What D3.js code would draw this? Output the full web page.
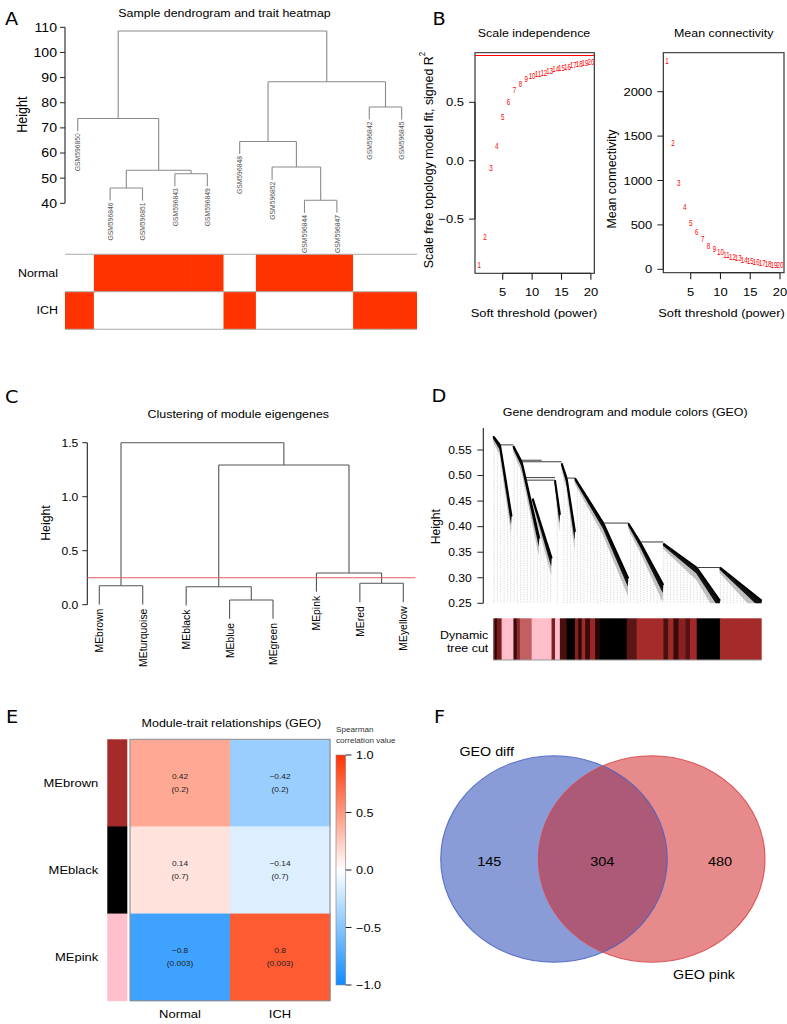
<!DOCTYPE html>
<html><head><meta charset="utf-8">
<script src="https://cdn.jsdelivr.net/npm/d3@7"></script>
<style>body{margin:0;background:#fff}svg{display:block}</style>
</head><body>
<svg id="chart" width="787" height="1024"></svg>
<script>
// ---------------- DATA ----------------
// A: sample dendrogram (R hclust style merge matrix: negative = leaf index)
const samples = ["GSM596850","GSM596846","GSM596851","GSM596843","GSM596849","GSM596848","GSM596852","GSM596844","GSM596847","GSM596842","GSM596845"];
const sampleMerges = [[-2,-3,46.1],[-8,-9,41.2],[-4,-5,51.8],[1,3,53.1],[-7,2,54.4],[-6,5,64.6],[-1,4,73.7],[-10,-11,78.3],[6,8,88.3],[7,9,108.5]];
const heightTicksA = [40,50,60,70,80,90,100,110];
const traitNames = ["Normal","ICH"];
const traitNormal = [0,1,1,1,1,0,1,1,1,0,0];
const traitICH    = [1,0,0,0,0,1,0,0,0,1,1];

// B: soft threshold
const powers = [1,2,3,4,5,6,7,8,9,10,11,12,13,14,15,16,17,18,19,20];
const sftR2 = [-0.894,-0.651,-0.065,0.126,0.372,0.506,0.606,0.655,0.700,0.726,0.743,0.754,0.769,0.783,0.792,0.806,0.817,0.826,0.837,0.846];
const meanK = [2346,1419,968,698,525,417,338,262,225,191,164,142,124,105,90,79,68,60,52,45];
const r2Cut = 0.9;
const powerTicks = [5,10,15,20];
const r2Ticks = [-0.5,0,0.5];
const kTicks = [0,500,1000,1500,2000];

// C: module eigengene clustering
const modules = ["MEbrown","MEturquoise","MEblack","MEblue","MEgreen","MEpink","MEred","MEyellow"];
const moduleMerges = [[-4,-5,0.044],[-3,1,0.167],[-1,-2,0.176],[-7,-8,0.198],[-6,4,0.294],[2,5,1.294],[3,6,1.5]];
const mergeCut = 0.25;
const heightTicksC = [0,0.5,1.0,1.5];

// D: gene dendrogram (approximate tails: [leafPos(0-1000), height])
const geneTails = [
  [[0,0.577],[25,0.560],[68,0.420]],
  [[74.5,0.558],[105.7,0.527],[121.8,0.491],[171.4,0.377]],
  [[146.7,0.455],[217.5,0.338]],
  [[229.8,0.491],[248.4,0.423]],
  [[254.7,0.524],[273.3,0.495],[304.4,0.390]],
  [[304.4,0.495],[409.8,0.407],[503,0.299]],
  [[503,0.407],[546.6,0.370],[633.4,0.286]],
  [[633.4,0.367],[757.8,0.320],[844.6,0.255]],
  [[844.6,0.320],[1000,0.255]]
];
const geneMerges = [[25,74.5,0.560],[105.7,180,0.530],[105.7,254.7,0.527],[121.8,229.8,0.496],[121.8,229.8,0.491],[273.3,304.4,0.495],[409.8,503,0.407],[546.6,633.4,0.370],[757.8,844.6,0.320]];
const heightTicksD = [0.25,0.30,0.35,0.40,0.45,0.50,0.55];
const dtcStart = [0,7,12,31,75,87,99,143,217,230,248,273,304,316,329,342,360,379,397,497,534,634,652,671,690,715,733,758,845];
const dtcEnd   = [7,12,31,75,87,99,143,217,230,248,273,304,316,329,342,360,379,397,497,534,634,652,671,690,715,733,758,845,1000];
const dtcColor = ["#6b1a1a","#000000","#7a1c1c","#FFC0CB","#3a0c0c","#8b2a2a","#c06060","#FFC0CB","#7a2020","#FFC0CB","#4a1010","#000000","#8b1f1f","#2a0808","#a02828","#3a0a0a","#9a2626","#2a0707","#000000","#5a1515","#A52A2A","#4a1010","#a02828","#3a0a0a","#8b2020","#5a1010","#a02828","#000000","#A52A2A"];

// E: module-trait relationships
const modulesE = ["MEbrown","MEblack","MEpink"];
const moduleColorsE = ["#A52A2A","#000000","#FFC0CB"];
const traitsE = ["Normal","ICH"];
const corE = [[0.42,-0.42],[0.14,-0.14],[-0.8,0.8]];
const pE = [["0.2","0.2"],["0.7","0.7"],["0.003","0.003"]];
const legendTicksE = [-1,-0.5,0,0.5,1];

// F: Venn
const vennSets = ["GEO diff","GEO pink"];
const vennCounts = [145,304,480];

// ---------------- SETUP ----------------
const FONT = "'Liberation Sans', Arial, Helvetica, sans-serif";
const SX = 1.1;                 // horizontal stretch of the original figure
const X = v => v / SX;
const svg = d3.select("#chart");
const defs = svg.append("defs");
const G = svg.append("g").attr("transform", `scale(${SX},1)`);

function label(g, x, y, s, o = {}) {
  const t = g.append("text").attr("dy", o.dy ?? "0.35em")
    .attr("text-anchor", o.anchor ?? "middle").attr("font-size", o.size ?? 11.3)
    .attr("fill", o.fill ?? "#000").attr("font-family", o.family ?? FONT).text(s);
  if (o.squeeze) t.attr("transform", `translate(${X(x)},${y}) scale(${o.squeeze},1)`);
  else t.attr("x", X(x)).attr("y", y);
  return t;
}
function vlabel(g, x, y, s, o = {}) {
  return g.append("text").attr("transform", `translate(${X(x)},${y}) rotate(-90)`)
    .attr("dy", o.dy ?? "0.35em").attr("text-anchor", o.anchor ?? "middle")
    .attr("font-size", o.size ?? 12.4).attr("fill", o.fill ?? "#000")
    .attr("font-family", o.family ?? FONT).text(s);
}
function line(g, x1, y1, x2, y2, stroke = "#000", w = 1) {
  return g.append("line").attr("x1", X(x1)).attr("y1", y1).attr("x2", X(x2)).attr("y2", y2)
    .attr("stroke", stroke).attr("stroke-width", w);
}
function axisLeftR(g, y, ticks, x0, fmt, o = {}) {
  const tl = o.tick ?? 5.5, pad = o.pad ?? 3, size = o.size ?? 11.5;
  line(g, x0, y(ticks[0]), x0, y(ticks[ticks.length - 1]), "#222");
  ticks.forEach(t => {
    line(g, x0 - tl, y(t), x0, y(t), "#222");
    label(g, x0 - tl - pad, y(t), fmt(t), { anchor: "end", size });
  });
}
function axisBottomR(g, x, ticks, y0, fmt, o = {}) {
  const tl = o.tick ?? 6.5, off = o.off ?? 19, size = o.size ?? 11.5;
  line(g, x(ticks[0]), y0, x(ticks[ticks.length - 1]), y0, "#222");
  ticks.forEach(t => {
    line(g, x(t), y0, x(t), y0 + tl, "#222");
    label(g, x(t), y0 + off, fmt(t), { size });
  });
}
function dendro(g, leaves, merges, xs, ys, hang, stroke, w) {
  const pos = [];
  const leafEnd = {};
  merges.forEach((m, i) => {
    const h = m[2];
    const kids = [m[0], m[1]].map(c => c < 0 ? { x: xs(leaves[-c - 1]), h: h - hang, leaf: leaves[-c - 1] } : pos[c - 1]);
    line(g, kids[0].x, ys(h), kids[1].x, ys(h), stroke, w);
    kids.forEach(k => {
      line(g, k.x, ys(h), k.x, ys(k.h), stroke, w);
      if (k.leaf) leafEnd[k.leaf] = ys(k.h);
    });
    pos.push({ x: (kids[0].x + kids[1].x) / 2, h });
  });
  return leafEnd;
}
function panelLetter(x, y, s) {
  label(G, x, y, s, { size: 17.5, family: "'DejaVu Sans', Arial, sans-serif" });
}

// ---------------- PANEL A ----------------
{
  const g = G.append("g");
  panelLetter(11.7, 19.2, "A");
  label(g, 224.5, 13.5, "Sample dendrogram and trait heatmap", { size: 11.3 });
  const yA = d3.scaleLinear().domain([40, 110]).range([203.3, 27.3]);
  const xA = d3.scalePoint().domain(samples).range([77.7, 401.7]);
  axisLeftR(g, yA, heightTicksA, 65, d => d3.format("d")(d), { tick: 5, pad: 3, size: 12.8 });
  vlabel(g, 22.5, 114.7, "Height", { size: 12.5 });
  const ends = dendro(g, samples, sampleMerges, xA, yA, 5, "#8a8a8a", 1);
  samples.forEach(s => vlabel(g, xA(s), ends[s] + 2, s, { anchor: "end", size: 6.8, fill: "#555" }));
  // trait heatmap
  const yR = d3.scaleBand().domain(traitNames).range([254.3, 329.3]);
  const half = xA.step() / 2;
  [traitNormal, traitICH].forEach((vals, r) => {
    vals.forEach((v, i) => {
      const c = xA(samples[i]);
      const x0 = Math.max(65, c - half), x1 = Math.min(417, c + half);
      g.append("rect").attr("x", X(x0)).attr("y", yR(traitNames[r]))
        .attr("width", X(x1) - X(x0) + (i < vals.length - 1 ? 0.6 : 0))
        .attr("height", yR.bandwidth()).attr("fill", v ? "#ff3300" : "#ffffff");
    });
    label(g, 58, yR(traitNames[r]) + yR.bandwidth() / 2, traitNames[r], { anchor: "end", size: 11.3 });
  });
  [254.3, yR("ICH"), 329.3].forEach(yy => line(g, 65, yy, 417, yy, "#aaa", 1));
}

// ---------------- PANEL B ----------------
{
  const g = G.append("g");
  panelLetter(439, 19.2, "B");
  const numFont = "'Liberation Sans', Arial, sans-serif";
  // left: scale independence
  const x1 = d3.scaleLinear().domain([1, 20]).range([479.2, 590.9]);
  const y1 = d3.scaleLinear().domain([0, 0.5]).range([160.7, 102.3]);
  g.append("rect").attr("x", X(475)).attr("y", 52.7).attr("width", X(594.3) - X(475)).attr("height", 220.6)
    .attr("fill", "none").attr("stroke", "#222");
  label(g, 534, 33.3, "Scale independence", { size: 11.3 });
  line(g, 475, y1(r2Cut), 594.3, y1(r2Cut), "#ff0000", 1);
  axisLeftR(g, y1, r2Ticks, 475, d => d3.format(".1f")(d), { tick: 6, pad: 5, size: 11.8 });
  axisBottomR(g, x1, powerTicks, 273.3, d => d, { size: 11.8 });
  const yl = vlabel(g, 428, 160, "", { size: 12.4 });
  yl.append("tspan").text("Scale free topology model fit, signed R");
  yl.append("tspan").attr("font-size", 8).attr("dy", "-0.9em").text("2");
  label(g, 534, 313, "Soft threshold (power)", { size: 11.7 });
  powers.forEach((p, i) => label(g, x1(p), y1(sftR2[i]), String(p),
    { size: 8.6, fill: "#ff0000", family: numFont, squeeze: 0.66 }));

  // right: mean connectivity
  const x2 = d3.scaleLinear().domain([1, 20]).range([666.9, 780.0]);
  const y2 = d3.scaleLinear().domain([0, 2000]).range([269.3, 91.7]);
  g.append("rect").attr("x", X(663.3)).attr("y", 52.7).attr("width", X(784) - X(663.3)).attr("height", 220)
    .attr("fill", "none").attr("stroke", "#222");
  label(g, 723.7, 33.3, "Mean connectivity", { size: 11.3 });
  axisLeftR(g, y2, kTicks, 663.3, d => d, { tick: 6, pad: 5, size: 11.8 });
  axisBottomR(g, x2, powerTicks, 272.7, d => d, { size: 11.8 });
  vlabel(g, 611.7, 179, "Mean connectivity", { size: 12.4 });
  label(g, 721.5, 313, "Soft threshold (power)", { size: 11.7 });
  powers.forEach((p, i) => label(g, x2(p), y2(meanK[i]), String(p),
    { size: 8.6, fill: "#ff0000", family: numFont, squeeze: 0.66 }));
}

// ---------------- PANEL C ----------------
{
  const g = G.append("g");
  panelLetter(11.7, 396.7, "C");
  label(g, 238.3, 414.3, "Clustering of module eigengenes", { size: 11.3 });
  const xC = d3.scalePoint().domain(modules).range([99.3, 403.3]);
  const yC = d3.scaleLinear().domain([0, 1.5]).range([604.7, 442.7]);
  axisLeftR(g, yC, heightTicksC, 87.3, d => d3.format(".1f")(d), { tick: 5, pad: 4, size: 11 });
  vlabel(g, 45, 523, "Height", { size: 12.3 });
  const ends = dendro(g, modules, moduleMerges, xC, yC, 0.175, "#555", 1);
  line(g, 87.3, yC(mergeCut), 415.5, yC(mergeCut), "#e85a5a", 1);
  modules.forEach(m => vlabel(g, xC(m), ends[m] + 4, m, { anchor: "end", size: 10.4 }));
}

// ---------------- PANEL D ----------------
{
  const g = G.append("g");
  panelLetter(439, 396, "D");
  label(g, 625.2, 411.7, "Gene dendrogram and module colors (GEO)", { size: 11.3 });
  const xD = d3.scaleLinear().domain([0, 1000]).range([493.3, 761.7]);
  const yD = d3.scaleLinear().domain([0.25, 0.55]).range([603.3, 450]);
  line(g, 483.3, 428, 483.3, yD(0.25), "#222");
  heightTicksD.forEach(t => {
    line(g, 477.3, yD(t), 483.3, yD(t), "#222");
    label(g, 471.7, yD(t), d3.format(".2f")(t), { anchor: "end", size: 11 });
  });
  vlabel(g, 435, 526.7, "Height", { size: 12.2 });

  defs.append("clipPath").attr("id", "clipTree").append("rect")
    .attr("x", X(488)).attr("y", 420).attr("width", X(300)).attr("height", 603.3 - 420);
  const tree = g.append("g").attr("clip-path", "url(#clipTree)");

  // guide lines hanging from the tree
  const topAt = u => {
    let best = null;
    geneTails.forEach(t => {
      for (let k = 0; k < t.length - 1; k++) {
        const p = t[k], q = t[k + 1];
        if (u >= p[0] && u <= q[0]) {
          const v = p[1] + (q[1] - p[1]) * (u - p[0]) / (q[0] - p[0] || 1);
          if (best === null || v > best) best = v;
        }
      }
    });
    return best;
  };
  const guides = d3.range(3, 1000, 12.4);
  guides.forEach(u => {
    const v = topAt(u);
    if (v === null) return;
    tree.append("line").attr("x1", X(xD(u))).attr("x2", X(xD(u))).attr("y1", yD(v) + 2).attr("y2", 603.3)
      .attr("stroke", "#bdbdbd").attr("stroke-width", 0.6).attr("stroke-dasharray", "1.2,1.2");
  });

  // tails
  geneTails.forEach(t => {
    const u0 = t[0][0], u1 = t[t.length - 1][0];
    const frac = u => (u - u0) / ((u1 - u0) || 1);
    const band = (thick0, thick1) => {
      const top = t.map(p => [X(xD(p[0])), yD(p[1])]);
      const bot = t.slice().reverse().map(p => [X(xD(p[0] - 2)), yD(p[1] - (thick0 + (thick1 - thick0) * frac(p[0])))]);
      return d3.line()(top.concat(bot)) + "Z";
    };
    tree.append("path").attr("d", band(0.01, 0.034)).attr("fill", "#8a8a8a").attr("opacity", 0.5);
    tree.append("path").attr("d", band(0.004, 0.016)).attr("fill", "#111");
    tree.append("path").attr("d", d3.line()(t.map(p => [X(xD(p[0])), yD(p[1])])))
      .attr("fill", "none").attr("stroke", "#000").attr("stroke-width", 1.8);
  });
  geneMerges.forEach(m => line(tree, xD(m[0]), yD(m[2]), xD(m[1]), yD(m[2]), "#333", 0.9));

  // dynamic tree cut colour bar
  dtcStart.forEach((s, i) => {
    g.append("rect").attr("x", X(xD(s))).attr("y", 618.3)
      .attr("width", X(xD(dtcEnd[i])) - X(xD(s)) + (i < dtcStart.length - 1 ? 0.5 : 0))
      .attr("height", 41.7).attr("fill", dtcColor[i]);
  });
  line(g, xD(0), 660, xD(1000), 660, "#999", 1);
  label(g, 488.3, 635, "Dynamic", { anchor: "end", size: 11.3 });
  label(g, 488.3, 648.3, "tree cut", { anchor: "end", size: 11.3 });
}

// ---------------- PANEL E ----------------
{
  const g = G.append("g");
  panelLetter(12, 716.7, "E");
  label(g, 231.3, 722.7, "Module-trait relationships (GEO)", { size: 11.4 });
  const yE = d3.scaleBand().domain(modulesE).range([739.3, 1000.7]);
  const xE = d3.scaleBand().domain(traitsE).range([130, 330]);
  const col = d3.scaleLinear().domain([-1, 0, 1]).range(["#0f8bff", "#ffffff", "#ff3200"]);
  modulesE.forEach((m, r) => {
    g.append("rect").attr("x", X(107.3)).attr("y", yE(m)).attr("width", X(127.3) - X(107.3))
      .attr("height", yE.bandwidth() + 0.5).attr("fill", moduleColorsE[r]);
    label(g, 98.3, yE(m) + yE.bandwidth() / 2, m, { anchor: "end", size: 11.8 });
    traitsE.forEach((t, c) => {
      const v = corE[r][c];
      g.append("rect").attr("x", X(xE(t))).attr("y", yE(m)).attr("width", X(xE.bandwidth()) + 0.5)
        .attr("height", yE.bandwidth() + 0.5).attr("fill", col(v));
      const cx = xE(t) + xE.bandwidth() / 2, cy = yE(m) + yE.bandwidth() / 2;
      label(g, cx, cy - 6.4, (v < 0 ? "\u2212" : "") + String(Math.abs(v)), { size: 7.6, fill: "#222" });
      label(g, cx, cy + 6.4, "(" + pE[r][c] + ")", { size: 7.6, fill: "#222" });
    });
  });
  g.append("rect").attr("x", X(130)).attr("y", 739.3).attr("width", X(200)).attr("height", 261.4)
    .attr("fill", "none").attr("stroke", "#8c8c8c").attr("stroke-width", 1);
  traitsE.forEach(t => label(g, xE(t) + xE.bandwidth() / 2, 1014, t, { size: 11.8 }));

  // colour legend
  const grad = defs.append("linearGradient").attr("id", "gradE")
    .attr("x1", 0).attr("y1", 1).attr("x2", 0).attr("y2", 0);
  [[0, "#0f8bff"], [0.5, "#ffffff"], [1, "#ff3200"]].forEach(s =>
    grad.append("stop").attr("offset", s[0]).attr("stop-color", s[1]));
  const yL = d3.scaleLinear().domain([-1, 1]).range([985, 755]);
  g.append("rect").attr("x", X(336)).attr("y", 755).attr("width", X(345.7) - X(336)).attr("height", 230)
    .attr("fill", "url(#gradE)").attr("stroke", "#888").attr("stroke-width", 0.6);
  legendTicksE.forEach(t => {
    line(g, 345.7, yL(t), 351.5, yL(t), "#222");
    label(g, 356, yL(t), (t < 0 ? "\u2212" : "") + d3.format(".1f")(Math.abs(t)), { anchor: "start", size: 11.5 });
  });
  label(g, 336, 729.3, "Spearman", { anchor: "start", size: 7.4, fill: "#333" });
  label(g, 336, 740, "correlation value", { anchor: "start", size: 7.4, fill: "#333" });
}

// ---------------- PANEL F ----------------
{
  const g = G.append("g");
  panelLetter(439.5, 716.7, "F");
  const cy = 859, r = 103.3;
  const cxL = X(554), cxR = X(651.7), rx = 113.3 / SX;
  defs.append("clipPath").attr("id", "clipL").append("ellipse")
    .attr("cx", cxL).attr("cy", cy).attr("rx", rx).attr("ry", r);
  g.append("ellipse").attr("cx", cxL).attr("cy", cy).attr("rx", rx).attr("ry", r).attr("fill", "#8a9cd7");
  g.append("ellipse").attr("cx", cxR).attr("cy", cy).attr("rx", rx).attr("ry", r).attr("fill", "#e68a8b");
  g.append("ellipse").attr("cx", cxR).attr("cy", cy).attr("rx", rx).attr("ry", r).attr("fill", "#ac5a78")
    .attr("clip-path", "url(#clipL)");
  g.append("ellipse").attr("cx", cxL).attr("cy", cy).attr("rx", rx).attr("ry", r).attr("fill", "none")
    .attr("stroke", "#4a62c6").attr("stroke-width", 1).attr("stroke-opacity", 0.85);
  g.append("ellipse").attr("cx", cxR).attr("cy", cy).attr("rx", rx).attr("ry", r).attr("fill", "none")
    .attr("stroke", "#d8474c").attr("stroke-width", 1).attr("stroke-opacity", 0.85);
  label(g, 486.7, 751.7, vennSets[0], { size: 13 });
  label(g, 704, 974, vennSets[1], { size: 13 });
  label(g, 489.3, 861.7, String(vennCounts[0]), { size: 13.2 });
  label(g, 602.3, 861.7, String(vennCounts[1]), { size: 13.2 });
  label(g, 720, 861.7, String(vennCounts[2]), { size: 13.2 });
}
</script>
</body></html>
